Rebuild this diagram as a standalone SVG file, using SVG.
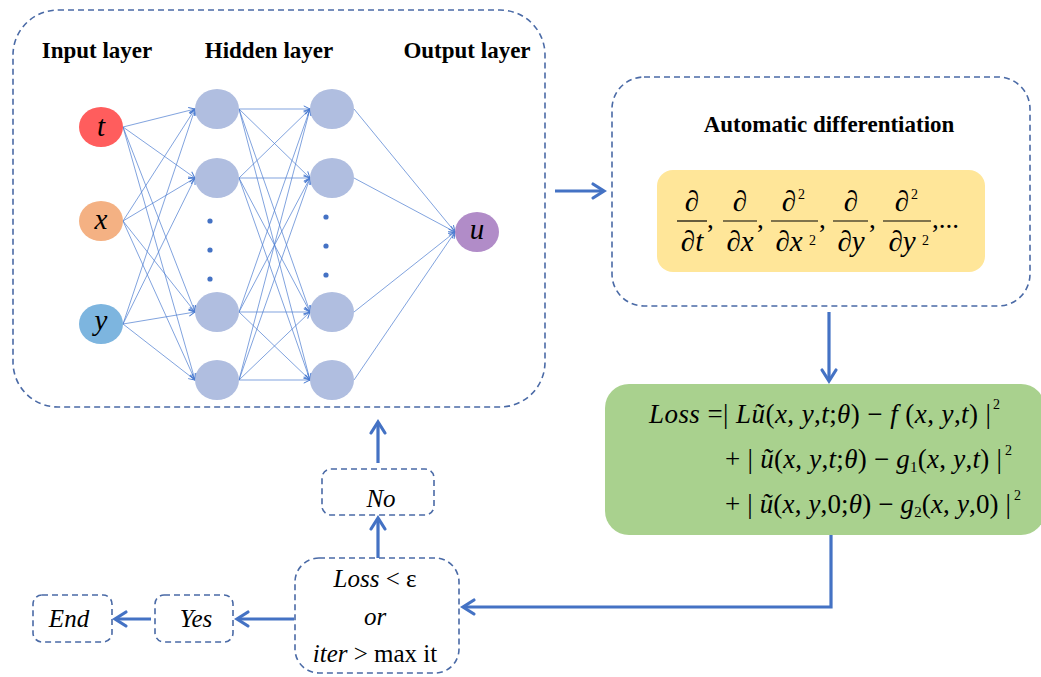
<svg xmlns="http://www.w3.org/2000/svg" width="1041" height="677" viewBox="0 0 1041 677">
<defs>
<marker id="thin" markerUnits="userSpaceOnUse" markerWidth="10" markerHeight="10" refX="0" refY="0" viewBox="-6 -4 8 8" orient="auto">
<path d="M-5,-2.5 L0,0 L-5,2.5" fill="none" stroke="#4A7BD0" stroke-width="0.8"/>
</marker>
<marker id="thick" markerUnits="userSpaceOnUse" markerWidth="20" markerHeight="20" refX="0" refY="0" viewBox="-14 -10 18 20" orient="auto">
<path d="M-11,-7 L0,0 L-11,7" fill="none" stroke="#4472C4" stroke-width="3.2" stroke-linecap="round" stroke-linejoin="miter"/>
</marker>
</defs>
<style>
.dash{fill:none;stroke:#4A6AA6;stroke-width:1.6;stroke-dasharray:6 4}
.nn{stroke:#4A7BD0;stroke-width:0.7;fill:none;marker-end:url(#thin)}
.flow{stroke:#4472C4;stroke-width:3.2;fill:none;marker-end:url(#thick)}
.hid{fill:#B0BEE0}
.dot{fill:#4472C4}
.hdr{font-family:"Liberation Serif","Times New Roman",serif;font-weight:bold;font-size:23px;fill:#000;text-anchor:middle}
.var{font-family:"Liberation Serif","Times New Roman",serif;font-style:italic;font-size:29px;fill:#000;text-anchor:middle}
.m{font-family:"Liberation Serif","Times New Roman",serif;font-size:27px;fill:#000}
.i{font-style:italic}
.frac{font-family:"Liberation Serif","Times New Roman",serif;font-style:italic;font-size:29px;fill:#000;text-anchor:middle}
.sup{font-family:"Liberation Serif","Times New Roman",serif;font-size:14px;fill:#000}
.lbl{font-family:"Liberation Serif","Times New Roman",serif;font-size:25px;fill:#000;text-anchor:middle}
</style>

<g id="network-box">
<rect class="dash" x="13" y="10" width="532" height="397" rx="45" ry="45"/>
<text class="hdr" x="97" y="58">Input layer</text>
<text class="hdr" x="269" y="58">Hidden layer</text>
<text class="hdr" x="467" y="58">Output layer</text>
</g>

<g id="nn-connectors">
<line class="nn" x1="123" y1="127" x2="195" y2="109"/>
<line class="nn" x1="123" y1="127" x2="195" y2="178"/>
<line class="nn" x1="123" y1="127" x2="195" y2="312"/>
<line class="nn" x1="123" y1="127" x2="195" y2="380"/>
<line class="nn" x1="123" y1="221" x2="195" y2="109"/>
<line class="nn" x1="123" y1="221" x2="195" y2="178"/>
<line class="nn" x1="123" y1="221" x2="195" y2="312"/>
<line class="nn" x1="123" y1="221" x2="195" y2="380"/>
<line class="nn" x1="123" y1="324" x2="195" y2="109"/>
<line class="nn" x1="123" y1="324" x2="195" y2="178"/>
<line class="nn" x1="123" y1="324" x2="195" y2="312"/>
<line class="nn" x1="123" y1="324" x2="195" y2="380"/>
<line class="nn" x1="239" y1="109" x2="310" y2="109"/>
<line class="nn" x1="239" y1="109" x2="310" y2="178"/>
<line class="nn" x1="239" y1="109" x2="310" y2="312"/>
<line class="nn" x1="239" y1="109" x2="310" y2="380"/>
<line class="nn" x1="239" y1="178" x2="310" y2="109"/>
<line class="nn" x1="239" y1="178" x2="310" y2="178"/>
<line class="nn" x1="239" y1="178" x2="310" y2="312"/>
<line class="nn" x1="239" y1="178" x2="310" y2="380"/>
<line class="nn" x1="239" y1="312" x2="310" y2="109"/>
<line class="nn" x1="239" y1="312" x2="310" y2="178"/>
<line class="nn" x1="239" y1="312" x2="310" y2="312"/>
<line class="nn" x1="239" y1="312" x2="310" y2="380"/>
<line class="nn" x1="239" y1="380" x2="310" y2="109"/>
<line class="nn" x1="239" y1="380" x2="310" y2="178"/>
<line class="nn" x1="239" y1="380" x2="310" y2="312"/>
<line class="nn" x1="239" y1="380" x2="310" y2="380"/>
<line class="nn" x1="354" y1="109" x2="455" y2="232"/>
<line class="nn" x1="354" y1="178" x2="455" y2="232"/>
<line class="nn" x1="354" y1="312" x2="455" y2="232"/>
<line class="nn" x1="354" y1="380" x2="455" y2="232"/>
</g>

<g id="input-t"><ellipse cx="101" cy="127" rx="22" ry="20" fill="#FF5D5D"/><text class="var" x="101" y="136">t</text></g>
<g id="input-x"><ellipse cx="101" cy="221" rx="22" ry="20" fill="#F4B183"/><text class="var" x="101" y="229">x</text></g>
<g id="input-y"><ellipse cx="101" cy="324" rx="22" ry="20" fill="#7DB5DF"/><text class="var" x="101" y="330">y</text></g>

<g id="hidden1">
<ellipse class="hid" cx="217" cy="109" rx="22" ry="20"/>
<ellipse class="hid" cx="217" cy="178" rx="22" ry="20"/>
<ellipse class="hid" cx="217" cy="312" rx="22" ry="20"/>
<ellipse class="hid" cx="217" cy="380" rx="22" ry="20"/>
<circle class="dot" cx="210" cy="221" r="2.6"/>
<circle class="dot" cx="210" cy="250" r="2.6"/>
<circle class="dot" cx="210" cy="279" r="2.6"/>
</g>
<g id="hidden2">
<ellipse class="hid" cx="332" cy="109" rx="22" ry="20"/>
<ellipse class="hid" cx="332" cy="178" rx="22" ry="20"/>
<ellipse class="hid" cx="332" cy="312" rx="22" ry="20"/>
<ellipse class="hid" cx="332" cy="380" rx="22" ry="20"/>
<circle class="dot" cx="326" cy="217" r="2.6"/>
<circle class="dot" cx="326" cy="246" r="2.6"/>
<circle class="dot" cx="326" cy="275" r="2.6"/>
</g>
<g id="output-u"><ellipse cx="477" cy="232" rx="22" ry="20" fill="#B18CC8"/><text class="var" x="477" y="239">u</text></g>

<g id="autodiff">
<rect class="dash" x="612" y="77" width="418" height="229" rx="32" ry="32"/>
<text class="hdr" x="829" y="132">Automatic differentiation</text>
<rect x="657" y="170" width="328" height="102" rx="16" ry="16" fill="#FFE699"/>
<g stroke="#000" stroke-width="1.2">
<line x1="677" y1="221" x2="707" y2="221"/>
<line x1="723" y1="221" x2="757" y2="221"/>
<line x1="771" y1="221" x2="818" y2="221"/>
<line x1="833" y1="221" x2="868" y2="221"/>
<line x1="883" y1="221" x2="931" y2="221"/>
</g>
<text class="frac" x="692" y="211">∂</text>
<text class="frac" x="692" y="251">∂t</text>
<text class="frac" x="740" y="211">∂</text>
<text class="frac" x="740" y="251">∂x</text>
<text class="frac" x="789" y="211">∂</text>
<text class="sup" x="798" y="199">2</text>
<text class="frac" x="789" y="251">∂x</text>
<text class="sup" x="809" y="245">2</text>
<text class="frac" x="851" y="211">∂</text>
<text class="frac" x="851" y="251">∂y</text>
<text class="frac" x="902" y="211">∂</text>
<text class="sup" x="911" y="199">2</text>
<text class="frac" x="902" y="251">∂y</text>
<text class="sup" x="922" y="245">2</text>
<g class="m" font-size="26">
<text x="707" y="228">,</text>
<text x="757" y="228">,</text>
<text x="819" y="228">,</text>
<text x="869" y="228">,</text>
<text x="932" y="228">,...</text>
</g>
</g>

<g id="loss">
<rect x="605" y="384" width="440" height="151" rx="24" ry="24" fill="#A9D18E"/>
<text class="m" x="649" y="423" textLength="342" lengthAdjust="spacing"><tspan class="i">Loss</tspan> =| <tspan class="i">L</tspan><tspan class="i">ũ</tspan>(<tspan class="i">x</tspan>, <tspan class="i">y</tspan>,<tspan class="i">t</tspan>;<tspan class="i">θ</tspan>) − <tspan class="i">f</tspan> (<tspan class="i">x</tspan>, <tspan class="i">y</tspan>,<tspan class="i">t</tspan>) |</text>
<text class="sup" x="993" y="409">2</text>
<text class="m" x="725" y="468" textLength="277" lengthAdjust="spacing">+ | <tspan class="i">ũ</tspan>(<tspan class="i">x</tspan>, <tspan class="i">y</tspan>,<tspan class="i">t</tspan>;<tspan class="i">θ</tspan>) − <tspan class="i">g</tspan><tspan font-size="15" dy="4">1</tspan><tspan dy="-4">(</tspan><tspan class="i">x</tspan>, <tspan class="i">y</tspan>,<tspan class="i">t</tspan>) |</text>
<text class="sup" x="1005" y="455">2</text>
<text class="m" x="725" y="513" textLength="286" lengthAdjust="spacing">+ | <tspan class="i">ũ</tspan>(<tspan class="i">x</tspan>, <tspan class="i">y</tspan>,0;<tspan class="i">θ</tspan>) − <tspan class="i">g</tspan><tspan font-size="15" dy="4">2</tspan><tspan dy="-4">(</tspan><tspan class="i">x</tspan>, <tspan class="i">y</tspan>,0) |</text>
<text class="sup" x="1014" y="500">2</text>
</g>

<g id="decision">
<rect class="dash" x="295" y="558" width="164" height="115" rx="24" ry="24"/>
<text class="lbl" x="375" y="587"><tspan font-style="italic">Loss</tspan> &lt; ε</text>
<text class="lbl" x="375" y="625" font-style="italic">or</text>
<text class="lbl" x="375" y="662"><tspan font-style="italic">iter</tspan> &gt; max it</text>
</g>

<g id="no">
<rect class="dash" x="322" y="469" width="112" height="46" rx="9" ry="9"/>
<text class="lbl" x="381" y="507" font-style="italic">No</text>
</g>
<g id="yes">
<rect class="dash" x="155" y="595" width="78" height="47" rx="9" ry="9"/>
<text class="lbl" x="196" y="627" font-style="italic">Yes</text>
</g>
<g id="end">
<rect class="dash" x="33" y="595" width="79" height="47" rx="9" ry="9"/>
<text class="lbl" x="69" y="627" font-style="italic">End</text>
</g>

<g id="connectors">
<line class="flow" x1="555" y1="191" x2="604" y2="191"/>
<line class="flow" x1="829" y1="312" x2="829" y2="381"/>
<polyline class="flow" points="831,535 831,607 463,607"/>
<line class="flow" x1="378" y1="558" x2="378" y2="518"/>
<line class="flow" x1="378" y1="463" x2="378" y2="422"/>
<line class="flow" x1="294" y1="619" x2="237" y2="619"/>
<line class="flow" x1="151" y1="619" x2="115" y2="619"/>
</g>
</svg>
